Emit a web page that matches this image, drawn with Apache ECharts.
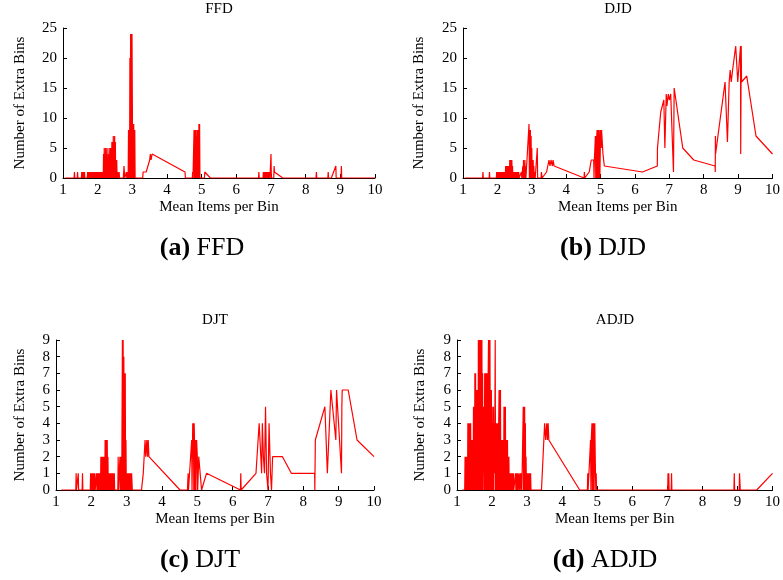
<!DOCTYPE html>
<html><head><meta charset="utf-8">
<script src="https://cdn.jsdelivr.net/npm/echarts@6/dist/echarts.min.js"></script>
<style>html,body{margin:0;padding:0;background:#fff}#c{width:783px;height:580px}</style>
</head><body><div id="c"></div>
<script>
const panelTitles = ['FFD', 'DJD', 'DJT', 'ADJD'];
const captionLetters = ['(a)', '(b)', '(c)', '(d)'];
const xAxisName = 'Mean Items per Bin';
const yAxisName = 'Number of Extra Bins';
const xMin = 1, xMax = 10;
const yMaxTop = 25, yStepTop = 5;
const yMaxBottom = 9, yStepBottom = 1;

const ffd = [
[1.05,0],[1.32,0],[1.33,1],[1.34,0],[1.41,0],[1.42,1],[1.43,0],
[1.53,0],[1.54,1],[1.55,0],[1.57,1],[1.58,0],[1.6,1],[1.61,0],[1.62,1],[1.63,0],
[1.7,0],[1.71,1],[1.72,0],[1.75,1],[1.76,0],[1.78,1],[1.79,0],[1.8,1],[1.81,0],[1.84,1],[1.85,0],
[1.87,1],[1.88,0],[1.89,1],[1.9,0],[1.91,1],[1.92,0],[1.93,1],[1.94,0],[1.95,1],[1.96,0],[1.97,1],[1.98,0],[1.99,1],[2.0,0],[2.01,1],[2.02,0],[2.03,1],[2.04,0],[2.05,1],[2.06,0],[2.07,1],[2.08,0],[2.09,1],[2.1,0],[2.11,1],[2.12,0],[2.13,1],[2.14,0],[2.15,1],[2.16,0],
[2.17,4],[2.18,0],[2.19,5],[2.2,0],[2.21,4],[2.22,0],[2.23,5],[2.24,0],[2.25,4],[2.26,0],[2.27,5],[2.28,0],[2.29,2],[2.3,0],[2.31,4],[2.32,0],[2.33,5],[2.34,0],[2.35,2],[2.36,0],[2.37,5],[2.38,0],[2.39,5],[2.4,0],[2.41,6],[2.42,0],[2.43,6],[2.44,0],[2.45,7],[2.46,0],[2.47,6],[2.48,0],[2.49,7],[2.5,0],[2.51,6],[2.52,0],[2.53,3],[2.54,0],[2.55,3],[2.56,0],[2.58,1],[2.59,0],[2.62,1],[2.63,0],
[2.74,0],[2.76,2],[2.78,0],[2.83,1],[2.84,0],[2.85,1],[2.86,0],[2.87,1],[2.88,0],
[2.89,8],[2.9,0],[2.91,8],[2.92,0],[2.93,20],[2.94,0],[2.95,24],[2.96,0],[2.97,24],[2.98,0],[2.99,24],[3.0,13],[3.01,0],[3.02,9],[3.03,0],[3.04,9],[3.05,0],[3.07,8],[3.08,0],
[3.3,0],[3.31,1],[3.4,1],[3.5,3],[3.52,4],[3.54,3],[3.57,4],[3.62,4],[4.52,1],[4.53,0],
[4.73,0],[4.74,1],[4.75,0],[4.78,8],[4.79,0],[4.8,8],[4.81,0],[4.82,8],[4.83,0],[4.84,7],[4.85,0],[4.86,8],[4.87,0],[4.88,8],[4.89,0],[4.9,8],[4.91,0],[4.92,9],[4.93,0],[4.94,9],[4.95,0],
[5.08,0],[5.09,1],[5.25,0],
[6.64,0],[6.65,1],[6.66,0],[6.77,0],[6.78,1],[6.79,0],[6.8,1],[6.81,0],[6.83,1],[6.84,0],[6.86,1],[6.87,0],[6.88,1],[6.89,0],[6.91,1],[6.92,0],[6.93,1],[6.94,0],[6.96,1],[6.97,0],[6.99,0],[7.0,4],[7.01,0],[7.08,0],[7.09,2],[7.1,1],[7.34,0],
[8.3,0],[8.31,1],[8.32,0],[8.64,0],[8.65,1],[8.66,0],[8.74,0],[8.87,2],[8.88,0],[9.02,0],[9.03,2],[9.04,0],[10,0]
];

const djd = [
[1.05,0],[1.57,0],[1.58,1],[1.59,0],[1.76,0],[1.77,1],[1.78,0],
[1.97,0],[1.98,1],[1.99,0],[2.0,1],[2.01,0],[2.02,1],[2.03,0],[2.04,1],[2.05,0],[2.07,0],[2.08,1],[2.09,0],[2.1,1],[2.11,0],[2.12,1],[2.13,0],[2.14,1],[2.15,0],[2.16,1],[2.17,0],[2.18,1],[2.19,0],[2.2,1],[2.21,0],[2.22,1],[2.23,0],
[2.24,2],[2.25,0],[2.26,2],[2.27,0],[2.28,2],[2.29,0],[2.3,2],[2.31,0],[2.32,2],[2.33,0],[2.34,2],
[2.35,0],[2.36,3],[2.37,0],[2.38,3],[2.39,0],[2.4,3],[2.41,0],[2.42,3],[2.43,0],[2.44,2],[2.45,0],[2.46,1],[2.47,0],[2.48,1],[2.49,0],[2.5,1],[2.51,0],[2.52,1],[2.53,0],[2.54,1],[2.55,0],[2.56,1],[2.57,0],[2.58,1],[2.59,0],[2.6,1],[2.61,0],[2.62,1],[2.63,0],
[2.68,0],[2.7,1],[2.71,0],[2.74,2],[2.75,0],[2.76,3],[2.77,0],[2.78,2],[2.79,0],[2.8,3],[2.81,0],[2.82,2],[2.83,0],
[2.92,9],[2.93,0],[2.94,8],[2.95,0],[2.96,8],[2.97,0],[2.98,7],[2.99,0],[3.0,5],[3.01,0],[3.02,3],[3.03,0],[3.04,3],[3.05,0],[3.06,2],[3.07,0],[3.09,1],[3.1,0],[3.15,0],[3.16,5],[3.17,0],
[3.27,0],[3.28,1],[3.3,0],[3.35,0],[3.43,1],[3.5,3],[3.53,2],[3.56,3],[3.6,2],[3.62,3],[3.65,2],[4.52,0],[4.53,1],[4.54,0],
[4.67,1],[4.72,1],[4.73,3],[4.8,3],[4.81,0],[4.82,3],[4.85,7],[4.86,0],[4.87,7],[4.88,0],[4.89,7],[4.9,8],[4.91,0],[4.92,8],[4.93,0],[4.94,8],[4.95,0],[4.96,8],[4.98,0],[5.0,8],[5.02,5],[5.03,8],[5.05,8],[5.07,4],[5.1,4],[5.11,2],
[6.22,1],[6.65,2],[6.655,5],[6.75,11],[6.84,13],[6.87,5],[6.91,14],[6.93,12],[6.97,14],[7.0,13],[7.04,14],[7.12,1],[7.14,15],[7.39,5],[7.71,3],
[8.33,2],[8.335,1],[8.34,7],[8.345,4],[8.62,16],[8.69,6],[8.74,16],[8.77,18],[8.8,16],[8.84,18],[8.93,22],[8.99,16],[9.07,22],[9.075,4],[9.09,22],[9.1,16],[9.25,17],[9.52,7],[10,4]
];

const djt = [
[1.15,0],[1.56,0],[1.57,1],[1.58,0],[1.62,0],[1.63,1],[1.64,0],[1.74,0],[1.75,1],[1.76,0],
[1.97,0],[1.98,1],[1.99,0],[2.0,1],[2.01,0],[2.02,1],[2.03,0],[2.04,1],[2.05,0],[2.06,1],[2.07,0],[2.08,1],[2.09,0],[2.1,1],[2.11,0],
[2.14,0],[2.15,1],[2.16,0],[2.17,1],[2.18,0],[2.19,1],[2.2,0],[2.21,1],[2.22,0],[2.23,1],[2.24,0],[2.25,1],[2.26,0],[2.27,2],[2.28,0],[2.29,2],[2.3,0],[2.31,2],[2.32,0],[2.33,2],[2.34,0],[2.35,2],[2.36,0],[2.37,2],[2.38,0],
[2.39,3],[2.4,0],[2.41,3],[2.42,0],[2.43,3],[2.44,0],[2.45,3],[2.46,0],[2.47,2],[2.48,0],[2.49,1],[2.5,0],[2.51,1],[2.52,0],[2.53,1],[2.54,0],[2.55,1],[2.56,0],[2.57,1],[2.58,0],[2.59,1],[2.6,0],[2.61,1],[2.62,0],[2.63,1],[2.64,0],[2.65,1],[2.66,0],
[2.75,0],[2.76,2],[2.77,0],[2.8,0],[2.81,2],[2.82,0],[2.83,2],[2.84,0],[2.85,2],[2.86,0],
[2.88,9],[2.89,0],[2.9,9],[2.91,0],[2.92,8],[2.93,0],[2.94,7],[2.95,0],[2.96,7],[2.97,0],[2.98,3],[2.99,0],[3.0,1],[3.01,0],[3.02,1],[3.03,0],[3.04,1],[3.05,0],[3.06,1],[3.07,0],[3.08,1],[3.09,0],[3.1,1],[3.11,0],[3.12,1],[3.13,0],[3.14,1],[3.16,0],
[3.42,0],[3.47,1],[3.52,3],[3.54,2],[3.57,3],[3.59,2],[3.61,3],[3.63,2],[4.51,0],
[4.72,0],[4.74,1],[4.75,0],[4.84,3],[4.85,0],[4.87,4],[4.88,3],[4.89,4],[4.9,0],[4.91,4],[4.92,3],[4.93,0],[4.95,3],[4.96,0],[4.98,3],[5.0,2],[5.01,0],[5.04,2],[5.12,0],[5.26,1],[6.22,0],[6.23,1],[6.24,0],
[6.66,1],[6.75,4],[6.82,1],[6.84,4],[6.87,2],[6.9,1],[6.93,5],[6.96,1],[7.0,0],[7.03,4],[7.07,1],[7.1,0],[7.13,2],[7.41,2],[7.66,1],[8.32,1],[8.325,0],[8.34,3],[8.61,5],[8.68,1],[8.72,1],[8.78,6],[8.92,3],[8.94,6],[9.08,1],[9.09,5],[9.1,6],[9.27,6],[9.52,3],[10,2]
];

const adjd = [
[1.15,0],[1.22,0],[1.23,2],[1.24,0],[1.25,2],[1.26,0],[1.27,2],[1.28,0],[1.29,2],[1.3,0],
[1.31,4],[1.32,0],[1.33,4],[1.34,0],[1.35,4],[1.36,0],[1.37,4],[1.38,0],[1.39,4],[1.4,0],
[1.41,3],[1.42,0],[1.43,3],[1.44,0],[1.45,3],[1.46,0],
[1.47,5],[1.48,0],[1.49,5],[1.5,0],
[1.51,7],[1.52,0],[1.53,7],[1.54,0],
[1.55,6],[1.56,0],[1.57,6],[1.58,0],[1.59,6],[1.6,0],
[1.61,9],[1.62,0],[1.63,9],[1.64,0],[1.65,9],[1.66,0],[1.67,9],[1.68,0],[1.69,9],[1.7,0],[1.71,9],
[1.72,0],[1.73,7],[1.74,0],[1.75,5],[1.76,1],[1.77,5],[1.78,0],
[1.79,7],[1.8,0],[1.81,7],[1.82,0],[1.83,7],[1.84,0],[1.85,7],[1.86,0],[1.87,7],[1.88,0],[1.89,7],
[1.9,9],[1.91,0],[1.92,9],[1.93,0],[1.94,9],
[1.95,0],[1.96,6],[1.97,0],[1.98,6],[1.99,0],
[2.0,5],[2.01,0],[2.02,4],[2.03,0],[2.04,5],[2.05,0],[2.06,4],[2.07,1],[2.08,4],
[2.09,9],[2.1,0],
[2.11,4],[2.12,0],[2.13,4],[2.14,0],[2.15,4],[2.16,0],[2.17,4],[2.18,0],[2.19,4],
[2.2,6],[2.21,0],[2.22,6],[2.23,0],[2.24,6],
[2.25,0],[2.26,3],[2.27,0],[2.28,3],[2.29,0],[2.3,3],[2.31,0],[2.32,3],[2.33,0],
[2.34,5],[2.35,0],[2.36,5],[2.37,0],[2.38,5],
[2.39,0],[2.4,3],[2.41,0],[2.42,3],[2.43,0],[2.44,3],
[2.45,0],[2.46,2],[2.47,0],[2.48,2],[2.49,0],[2.5,1],[2.51,0],[2.52,1],[2.53,0],[2.54,1],[2.55,0],[2.56,1],[2.57,0],[2.59,1],[2.6,0],[2.61,1],[2.62,0],
[2.66,0],[2.67,1],[2.68,0],[2.7,1],[2.71,0],[2.73,1],[2.74,0],[2.77,1],[2.78,0],[2.81,1],[2.82,0],[2.84,1],[2.85,0],
[2.88,0],[2.89,5],[2.9,0],[2.91,5],[2.92,0],[2.93,5],[2.94,0],[2.95,4],[2.96,0],[2.97,2],[2.98,0],[2.99,1],[3.0,0],[3.02,1],[3.03,0],[3.05,1],[3.06,0],[3.08,1],[3.09,0],[3.1,1],[3.11,0],
[3.41,0],[3.5,4],[3.53,3],[3.56,4],[3.58,3],[3.6,4],[3.62,3],[4.5,0],
[4.72,0],[4.73,1],[4.74,0],[4.78,0],[4.81,3],[4.82,0],[4.83,3],[4.85,4],[4.86,0],[4.88,4],[4.89,0],[4.9,4],[4.91,0],[4.93,4],[4.95,1],[4.96,0],[4.97,1],[4.98,0],
[7.01,0],[7.02,1],[7.03,0],[7.04,1],[7.05,0],[7.11,0],[7.12,1],[7.13,0],
[8.9,0],[8.91,1],[8.92,0],[9.05,0],[9.06,1],[9.07,1],[9.08,0],[9.55,0],[10,1]
];

const seriesData = [ffd, djd, djt, adjd];

const F = 'Liberation Serif';
const grids = [
  {left: 63, top: 28, width: 312, height: 150},
  {left: 463, top: 28, width: 311, height: 150},
  {left: 56, top: 340, width: 318, height: 150},
  {left: 457, top: 340, width: 317, height: 150}
];
const titlePos = [[219, 9], [618, 9], [215, 320], [615, 320]];
const captionPos = [[202, 248], [603, 248], [200, 560], [605, 560]];
const yNameGap = [35, 36, 28, 29];

const chart = echarts.init(document.getElementById('c'));
const option = {
  animation: false,
  backgroundColor: '#fff',
  grid: grids.map(g => Object.assign({containLabel: false}, g)),
  title: panelTitles.map((t, i) => ({
    text: t, left: titlePos[i][0], top: titlePos[i][1], padding: 0,
    textAlign: 'center', textVerticalAlign: 'middle',
    textStyle: {fontFamily: F, fontSize: 15, fontWeight: 'normal', color: '#000'}
  })).concat(panelTitles.map((t, i) => ({
    text: '{b|' + captionLetters[i] + '} ' + t, left: captionPos[i][0], top: captionPos[i][1], padding: 0,
    textAlign: 'center', textVerticalAlign: 'middle',
    textStyle: {fontFamily: F, fontSize: 26, fontWeight: 'normal', color: '#000',
      rich: {b: {fontFamily: F, fontSize: 26, fontWeight: 'bold', color: '#000'}}}
  }))),
  xAxis: grids.map((g, i) => ({
    gridIndex: i, type: 'value', min: xMin, max: xMax, interval: 1,
    name: xAxisName, nameLocation: 'middle', nameGap: 22,
    nameTextStyle: {fontFamily: F, fontSize: 15, color: '#000'},
    axisLine: {onZero: false, lineStyle: {color: '#000', width: 1}},
    axisTick: {inside: true, length: 4, lineStyle: {color: '#000'}},
    axisLabel: {fontFamily: F, fontSize: 15, color: '#000', margin: 5},
    splitLine: {show: false}
  })),
  yAxis: grids.map((g, i) => ({
    gridIndex: i, type: 'value', min: 0,
    max: i < 2 ? yMaxTop : yMaxBottom, interval: i < 2 ? yStepTop : yStepBottom,
    name: yAxisName, nameLocation: 'middle', nameGap: yNameGap[i],
    nameTextStyle: {fontFamily: F, fontSize: 15, color: '#000'},
    axisLine: {show: true, lineStyle: {color: '#000', width: 1}},
    axisTick: {show: true, inside: true, length: 4, lineStyle: {color: '#000'}},
    axisLabel: {fontFamily: F, fontSize: 15, color: '#000', margin: 6},
    splitLine: {show: false}
  })),
  series: seriesData.map((d, i) => ({
    type: 'line', xAxisIndex: i, yAxisIndex: i, data: d,
    showSymbol: false, symbol: 'none',
    lineStyle: {color: '#ff0000', width: 1.2},
    itemStyle: {color: '#ff0000'},
    z: 3
  }))
};
chart.setOption(option);
</script></body></html>
